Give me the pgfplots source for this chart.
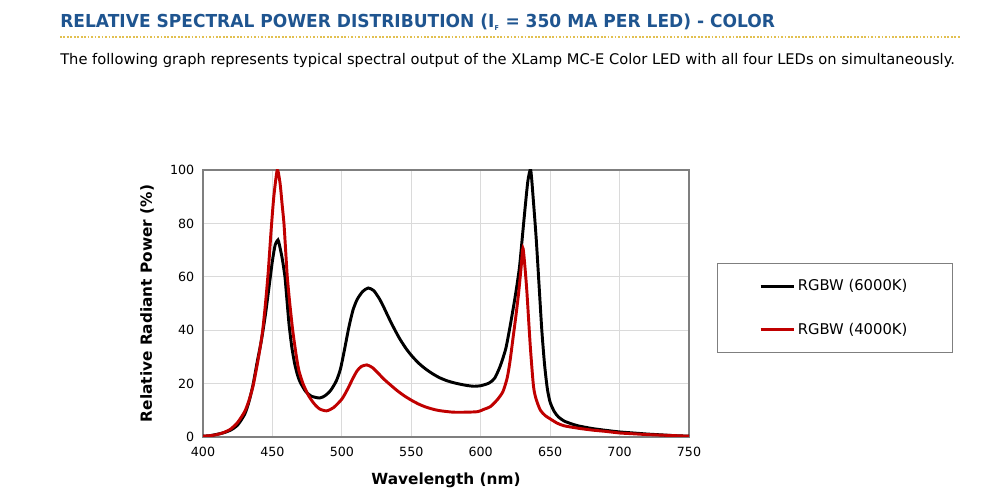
\documentclass[border=0pt]{standalone}
\usepackage{pgfplots}
\pgfplotsset{compat=1.18}
\usepackage{fontspec}
\setmainfont{DejaVu Sans}
\definecolor{titleblue}{HTML}{1F5590}
\definecolor{gold}{HTML}{E2C050}
\definecolor{darkred}{HTML}{C00000}
\definecolor{gridgray}{HTML}{DADADA}
\definecolor{framegray}{HTML}{7F7F7F}
\begin{document}
\begin{tikzpicture}[x=0.75pt,y=0.75pt]
\useasboundingbox (0,0) rectangle (1000,499);
\node[anchor=west,inner sep=0pt,text=titleblue] at (60,477)
  {\scalebox{0.955}[1]{\fontsize{13.4}{15}\selectfont\bfseries RELATIVE SPECTRAL POWER DISTRIBUTION (I\textsubscript{\tiny F} = 350 MA PER LED) - COLOR}};
\draw[gold,line width=1.3pt,dash pattern=on 1.3pt off 1.3pt] (60,462) -- (960,462);
\node[anchor=west,inner sep=0pt] at (60,439)
  {\resizebox{671pt}{!}{\fontsize{10}{12}\selectfont The following graph represents typical spectral output of the XLamp MC-E Color LED with all four LEDs on simultaneously.}};
\begin{axis}[
  at={(152.25pt,46.5pt)}, anchor=south west,
  scale only axis, width=364.5pt, height=200.25pt,
  xmin=400, xmax=750, ymin=0, ymax=100,
  xtick={400,450,...,750}, ytick={0,20,...,100},
  grid=major, grid style={gridgray, line width=0.6pt},
  axis line style={framegray, line width=0.8pt},
  major tick length=0pt,
  /pgf/number format/assume math mode=true,
  tick label style={font=\fontsize{9.5}{11}\selectfont},
  xticklabel style={yshift=-4pt},
  yticklabel style={xshift=-3pt},
  xlabel={Wavelength (nm)}, ylabel={Relative Radiant Power (\%)},
  label style={font=\fontsize{11.5}{13}\selectfont\bfseries},
  xlabel style={at={(axis description cs:0.5,-0.161)}, anchor=center},
  ylabel style={at={(axis description cs:-0.115,0.5)}, anchor=center},
  legend style={at={(axis description cs:1.0576,0.6517)}, anchor=north west,
    draw=framegray, line width=0.6pt, inner xsep=31.5pt, inner ysep=10.25pt, row sep=18.5pt,
    font=\fontsize{11.1}{13}\selectfont},
  legend cell align=left,
  legend image code/.code={\draw[#1, line width=1.8pt] (0pt,0pt) -- (25pt,0pt);},
]
\addplot[black, line width=2.2pt, smooth, tension=0.4] coordinates {
(400,0.3) (405,0.5) (410,1.0) (415,1.6) (420,2.6) (425,4.5) (430,8.5) (433,13)
(436,19.5) (439,28) (442,36) (445,46) (448,58) (450,66) (452,72) (454,73.8)
(455,72) (457,67) (459,60) (460.5,51) (462,42) (464,33.5) (466,27.5) (468,23.3)
(470,20.5) (474,17) (478,15.3) (484,14.6) (488,15.5) (492,17.5) (496,21) (499,25.5)
(502,33) (505,41) (508,47.5) (511,51.5) (515,54.5) (519,55.8) (523,54.8) (527,51.8)
(530,48.8) (533,45.5) (536,42.3) (539,39.3) (542,36.5) (546,33.3) (550,30.6)
(555,27.8) (560,25.6) (565,23.8) (570,22.3) (575,21.2) (580,20.4) (585,19.8)
(590,19.3) (595,19) (600,19.2) (606,20.2) (610,22) (614,26.5) (618,33) (621,41)
(624,50) (626,56.5) (628,64) (630,75) (632,86) (634,96) (636,100) (638,88)
(640,74) (642,57) (644,40) (646,27) (648,18) (650,13) (653,9.5) (656,7.5)
(660,6) (665,5) (670,4.2) (680,3.2) (690,2.5) (700,1.9) (710,1.5) (720,1.1)
(730,0.8) (740,0.5) (750,0.3)
};
\addlegendentry{RGBW (6000K)}
\addplot[darkred, line width=2.2pt, smooth, tension=0.4] coordinates {
(400,0.3) (405,0.5) (410,0.9) (415,1.7) (420,3) (425,5.5) (430,9.5) (433,13.5)
(436,19) (439,27) (441,33) (443,40) (445,50) (447,62) (449,77) (451,90)
(453.5,100) (455.5,95) (457,87) (458.3,80) (459.5,70) (460.7,60) (462.5,50)
(464.6,40) (467,31) (469,25) (472,20) (476,15.5) (480,12.5) (484,10.5)
(489,9.8) (494,11) (500,14.2) (504,17.8) (508,22) (511,24.8) (514,26.4) (518,27)
(522,26) (526,24) (530,21.8) (535,19.5) (540,17.3) (545,15.4) (550,13.8)
(555,12.4) (560,11.3) (565,10.5) (570,9.9) (580,9.3) (590,9.3) (598,9.5)
(602,10.3) (607,11.4) (612,14) (616,17) (619,22) (621,28) (623.5,38) (625.5,46)
(627.3,54) (629,63) (630.4,70.7) (631.8,64) (633.3,54) (635.7,34) (638,19)
(640,14) (643,10) (646.5,8) (650,6.8) (655,5.2) (660,4.2) (670,3.3) (680,2.6)
(690,2.1) (700,1.5) (710,1.2) (720,0.9) (730,0.7) (740,0.5) (750,0.3)
};
\addlegendentry{RGBW (4000K)}
\end{axis}
\end{tikzpicture}
\end{document}
